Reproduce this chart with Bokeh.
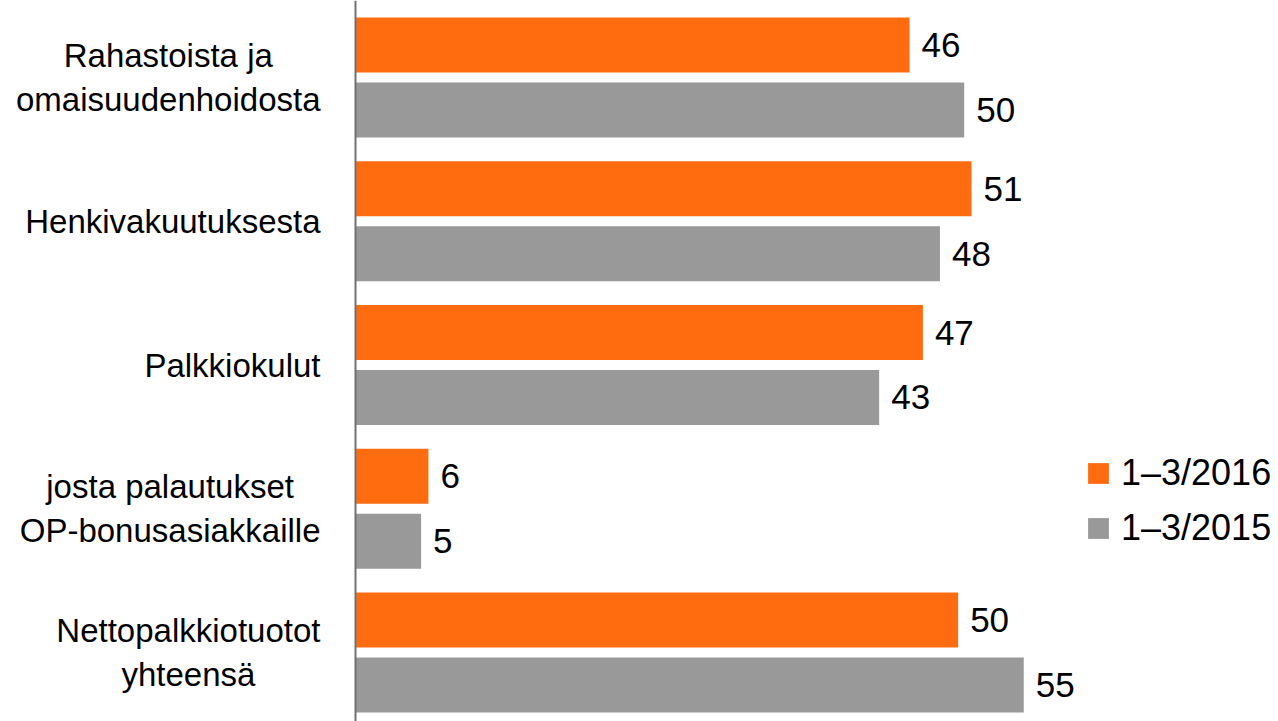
from bokeh.plotting import figure
from bokeh.models import Range1d, Legend, LegendItem, ColumnDataSource, Span
from bokeh.transform import dodge
from bokeh.embed import file_html
from bokeh.resources import INLINE
from bokeh.core.properties import value

categories = [
    "Rahastoista ja\nomaisuudenhoidosta",
    "Henkivakuutuksesta",
    "Palkkiokulut",
    "josta palautukset\nOP-bonusasiakkaille",
    "Nettopalkkiotuotot\nyhteensä",
]
series_names = ["1–3/2016", "1–3/2015"]
values_2016 = [45.6, 50.7, 46.7, 6.0, 49.6]
values_2015 = [50.1, 48.1, 43.1, 5.4, 55.0]
colors = ["#FF6C10", "#999999"]

FONT = "Liberation Sans"
CAT_SIZE = 33
W, H = 1278, 721
AXIS_X = 355          # pixel position of the value axis
PX_PER_UNIT = 12.15   # pixels per value unit
PITCH = 143.75        # pixels per category
TOP_CENTER = 77       # pixel y of first category centre
LABEL_GAP = 35

# Arial / Liberation Sans advance widths (per 1000 em), to centre multi-line labels
ADV = {" ": 278, "-": 333, "a": 556, "b": 556, "c": 500, "d": 556, "e": 556, "f": 278,
       "g": 556, "h": 556, "i": 222, "j": 222, "k": 500, "l": 222, "m": 833, "n": 556,
       "o": 556, "p": 556, "r": 333, "s": 500, "t": 278, "u": 556, "v": 500, "y": 500,
       "ä": 556, "H": 722, "N": 722, "O": 778, "P": 667, "R": 722}


def text_width(s, size):
    return sum(ADV.get(ch, 556) for ch in s) * size / 1000.0


n = len(categories)
ypos = [n - i - 0.5 for i in range(n)]
y_top = ypos[0] + TOP_CENTER / PITCH
y_bot = y_top - H / PITCH

p = figure(width=W, height=H, output_backend="svg", toolbar_location=None,
           x_range=Range1d(-AXIS_X / PX_PER_UNIT, (W - AXIS_X) / PX_PER_UNIT),
           y_range=Range1d(y_bot, y_top),
           min_border_left=0, min_border_right=0, min_border_top=0, min_border_bottom=0,
           x_axis_type=None, y_axis_type=None)
p.outline_line_color = None
p.xgrid.visible = False
p.ygrid.visible = False

src = ColumnDataSource(dict(
    y=ypos,
    zero=[0] * n,
    cat=categories,
    cat_off=[-(LABEL_GAP + max(text_width(l, CAT_SIZE) for l in c.split("\n")) / 2)
             for c in categories],
    v16=values_2016,
    v15=values_2015,
    l16=[f"{v:.0f}" for v in values_2016],
    l15=[f"{v:.0f}" for v in values_2015],
))

off = 0.226
bh = 0.383
r16 = p.hbar(y=dodge("y", off, range=p.y_range), left=0, right="v16", height=bh,
             fill_color=colors[0], line_color=None, source=src)
r15 = p.hbar(y=dodge("y", -off, range=p.y_range), left=0, right="v15", height=bh,
             fill_color=colors[1], line_color=None, source=src)

for col, d in (("16", off), ("15", -off)):
    p.text(x="v" + col, y=dodge("y", d, range=p.y_range), text="l" + col, source=src,
           x_offset=12, text_baseline="middle", text_align="left",
           text_font=value(FONT), text_font_size="35px", text_color="#000000")

# category labels (lines centred, block right-aligned next to the axis)
p.text(x="zero", y="y", text="cat", x_offset="cat_off", source=src,
       text_align="center", text_baseline="middle", text_line_height=1.2,
       text_font=value(FONT), text_font_size=f"{CAT_SIZE}px", text_color="#000000")

p.add_layout(Span(location=0, dimension="height", line_color="#707070", line_width=2))

legend = Legend(items=[LegendItem(label=series_names[0], renderers=[r16]),
                       LegendItem(label=series_names[1], renderers=[r15])],
                location=(1085, 172), glyph_width=26, glyph_height=26,
                label_text_font=FONT, label_text_font_size="36px", label_text_color="#000000",
                label_standoff=10, spacing=13, padding=0, margin=0,
                border_line_color=None, background_fill_alpha=0)
p.add_layout(legend)

open("out.html", "w").write(file_html(p, INLINE))
